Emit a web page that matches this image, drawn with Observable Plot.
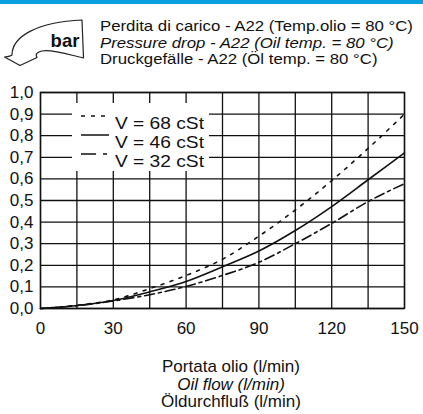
<!DOCTYPE html>
<html>
<head>
<meta charset="utf-8">
<script src="https://cdn.jsdelivr.net/npm/d3@7"></script>
<script src="https://cdn.jsdelivr.net/npm/@observablehq/plot@0.6"></script>
<style>
  html, body { margin: 0; padding: 0; background: #fff; }
  #chart { position: relative; width: 423px; height: 414px; overflow: hidden;
           font-family: "Liberation Sans", Arial, Helvetica, sans-serif; color: #111; }
  #topbar { position: absolute; left: 0; top: 0; width: 423px; height: 4px; background: #0a9fe0; }
  #header, #footer { position: absolute; left: 0; }
  #plot { position: absolute; left: 0; top: 80px; }
  #legend { position: absolute; left: 72px; top: 103px; width: 137px; height: 68px; background: #fff; }
</style>
</head>
<body>
<div id="chart">
  <div id="topbar"></div>
  <svg id="header" width="423" height="80" style="top:0"></svg>
  <div id="plot"></div>
  <svg id="legend" width="137" height="68"></svg>
  <svg id="footer" width="423" height="69" style="top:345px"></svg>
</div>
<script>
// Oil flow (l/min) at which the pressure drop was read
const flow = [0, 15, 30, 45, 60, 75, 90, 105, 120, 135, 150];

// Pressure drop (bar) for each oil viscosity
const drop68 = [0, 0.015, 0.040, 0.092, 0.153, 0.228, 0.335, 0.456, 0.592, 0.741, 0.900];
const drop46 = [0, 0.014, 0.037, 0.077, 0.125, 0.193, 0.266, 0.361, 0.472, 0.596, 0.720];
const drop32 = [0, 0.013, 0.035, 0.064, 0.102, 0.153, 0.214, 0.300, 0.394, 0.495, 0.578];

const seriesNames = ["V = 68 cSt", "V = 46 cSt", "V = 32 cSt"];

// Axis ticks and labels
const xGrid = [0, 15, 30, 45, 60, 75, 90, 105, 120, 135, 150];
const xLabels = [0, 30, 60, 90, 120, 150];
const yTicks = [0, 0.1, 0.2, 0.3, 0.4, 0.5, 0.6, 0.7, 0.8, 0.9, 1.0];

const titleLines = [
  "Perdita di carico - A22 (Temp.olio = 80 °C)",
  "Pressure drop - A22 (Oil temp. = 80 °C)",
  "Druckgefälle - A22 (Öl temp. = 80 °C)"
];
const xTitleLines = ["Portata olio (l/min)", "Oil flow (l/min)", "Öldurchfluß (l/min)"];
const unitLabel = "bar";

const dashes = {"V = 68 cSt": "3,6.5", "V = 46 cSt": null, "V = 32 cSt": "10,4,3,4"};
const values = {"V = 68 cSt": drop68, "V = 46 cSt": drop46, "V = 32 cSt": drop32};

const font = "'Liberation Sans', Arial, Helvetica, sans-serif";
const ink = "#111";

// ---- header: unit arrow + three-language title
const header = d3.select("#header");
header.append("path")
  .attr("d", "M82,20 L83.5,58 C70,55 52,49 42,51 C37,52 35,54 37,57.5 L20,65.5 L4.5,57 C8,56.5 11,56 12,55 C12,36 38,22 82,20 Z")
  .attr("fill", "#fff").attr("stroke", "#222").attr("stroke-width", 1.2).attr("stroke-linejoin", "round");
header.append("text")
  .attr("x", 65).attr("y", 47).attr("text-anchor", "middle")
  .attr("font-family", font).attr("font-weight", "bold").attr("font-size", 18.5).attr("fill", ink)
  .text(unitLabel);
// widened glyphs keep the three title lines compact without colliding
header.append("g")
  .attr("transform", "translate(100,0) scale(1.134,1)")
  .selectAll("text").data(titleLines).join("text")
  .attr("x", 0).attr("y", (d, i) => 31.5 + i * 16.3)
  .attr("font-family", font).attr("font-size", 14.8).attr("fill", ink)
  .attr("font-style", (d, i) => i === 1 ? "italic" : "normal")
  .text(d => d);

// ---- chart
const rows = seriesNames.flatMap(name => flow.map((f, i) => ({flow: f, drop: values[name][i], series: name})));

const lineMarks = seriesNames.map(name =>
  Plot.line(rows.filter(r => r.series === name), {
    x: "flow", y: "drop", curve: "monotone-x",
    stroke: ink, strokeWidth: 1.6,
    strokeDasharray: dashes[name] || undefined
  })
);

const chart = Plot.plot({
  width: 423,
  height: 265,
  marginTop: 12,
  marginRight: 19,
  marginBottom: 37,
  marginLeft: 40,
  style: {fontFamily: font, fontSize: "17px", color: ink, background: "transparent", overflow: "visible"},
  x: {domain: [0, 150]},
  y: {domain: [0, 1]},
  marks: [
    Plot.gridX(xGrid, {stroke: ink, strokeOpacity: 1, strokeWidth: 1.3}),
    Plot.gridY(yTicks, {stroke: ink, strokeOpacity: 1, strokeWidth: 1.3}),
    Plot.frame({stroke: ink, strokeWidth: 1.4}),
    Plot.axisX(xLabels, {tickSize: 0, tickPadding: 13, label: null, fontSize: 17}),
    Plot.axisY(yTicks, {tickSize: 0, tickPadding: 7, label: null, fontSize: 17,
      tickFormat: d => d.toFixed(1).replace(".", ",")}),
    ...lineMarks
  ]
});
document.getElementById("plot").appendChild(chart);

// ---- legend box (white panel over the grid)
const legend = d3.select("#legend");
const legendRows = seriesNames.map((name, i) => ({name, lineY: [13, 32, 51][i], textY: [26, 45, 64][i]}));
legend.selectAll("line").data(legendRows).join("line")
  .attr("x1", 9).attr("x2", 37)
  .attr("y1", d => d.lineY).attr("y2", d => d.lineY)
  .attr("stroke", ink).attr("stroke-width", 1.5)
  .attr("stroke-dasharray", d => d.name === "V = 32 cSt" ? "15,7,4,20" : d.name === "V = 68 cSt" ? "4,6" : null);
legend.append("g")
  .attr("transform", "translate(43,0) scale(1.128,1)")
  .selectAll("text").data(legendRows).join("text")
  .attr("x", 0).attr("y", d => d.textY)
  .attr("font-family", font).attr("font-size", 17).attr("fill", ink)
  .text(d => d.name);

// ---- x axis title (three languages)
d3.select("#footer").selectAll("text").data(xTitleLines).join("text")
  .attr("x", 231).attr("y", (d, i) => 27 + i * 17.5)
  .attr("text-anchor", "middle")
  .attr("font-family", font).attr("font-size", 17).attr("fill", ink)
  .attr("font-style", (d, i) => i === 1 ? "italic" : "normal")
  .text(d => d);
</script>
</body>
</html>
